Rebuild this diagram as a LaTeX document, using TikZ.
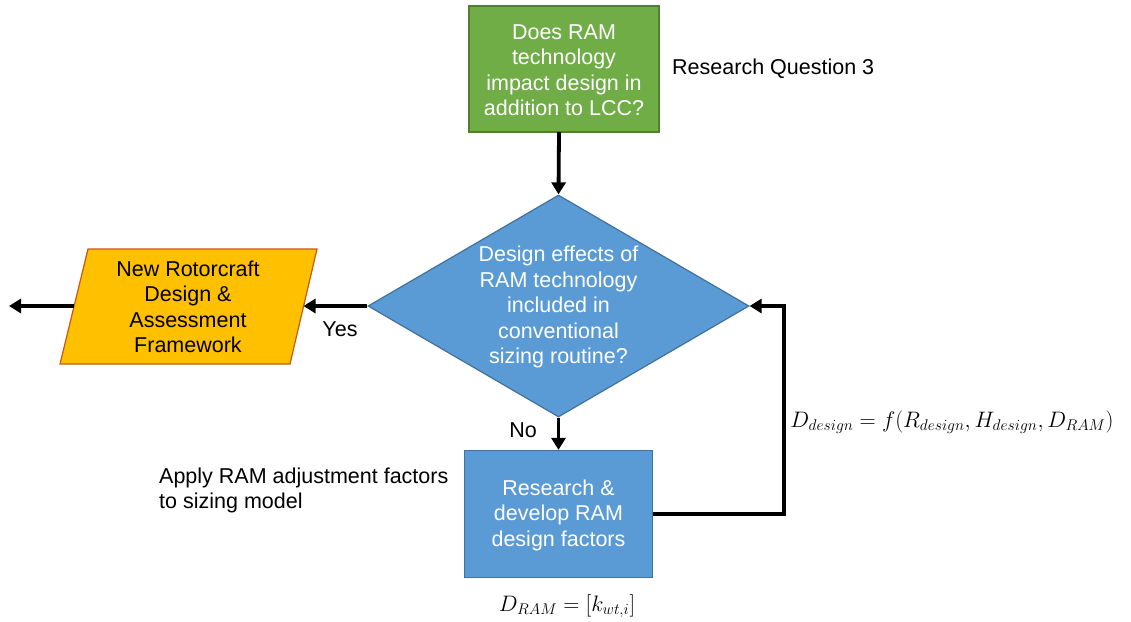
\documentclass[tikz,border=0pt]{standalone}
\usepackage{graphicx}
\usepackage{fontspec}
\setmainfont{Liberation Sans}
\usetikzlibrary{shapes.geometric,arrows.meta}
\definecolor{gfill}{HTML}{70AD47}
\definecolor{gdraw}{HTML}{507E32}
\definecolor{bfill}{HTML}{5B9BD5}
\definecolor{bdraw}{HTML}{41719C}
\definecolor{ofill}{HTML}{FFC000}
\definecolor{odraw}{HTML}{C55A11}
\tikzset{
  txt/.style={font=\fontsize{21.5pt}{25.5pt}\selectfont, align=center, inner sep=0pt},
  wtxt/.style={txt, text=white},
  mtxt/.style={font=\fontsize{20.74pt}{25pt}\selectfont, inner sep=0pt},
  flow/.style={line width=3.8pt, -{Triangle[length=12pt,width=14pt]}},
  gbox/.style={draw=gdraw, fill=gfill, line width=1.2pt, minimum width=190pt, minimum height=126pt, inner sep=0pt},
  bbox/.style={draw=bdraw, fill=bfill, line width=1.2pt, minimum width=188pt, minimum height=127pt, inner sep=0pt},
  dia/.style={diamond, draw=bdraw, fill=bfill, line width=1.2pt, minimum width=381pt, minimum height=222pt, inner sep=0pt},
}
\begin{document}
\begin{tikzpicture}[x=1pt,y=-1pt]
\useasboundingbox (0,0) rectangle (1131,621);
% green question box
\node[gbox] (q) at (564,69) {};
\node[wtxt] (qt) at (564,70) {Does RAM\\technology\\impact design in\\addition to LCC?};
\node[txt, anchor=west] (rq) at (672,69) {Research Question 3};
% diamond
\node[dia] (d) at (558.5,306) {};
\node[wtxt] (dt) at (558.5,307) {Design effects of\\RAM technology\\included in\\conventional\\sizing routine?};
% parallelogram
\coordinate (pBL) at (60,364);
\coordinate (pBR) at (290,364);
\coordinate (pTR) at (317,249);
\coordinate (pTL) at (88,249);
\draw[draw=odraw, fill=ofill, line width=1.2pt] (pBL) -- (pBR) -- (pTR) -- (pTL) -- cycle;
\coordinate (pR) at (303.5,306);
\coordinate (pL) at (74,306);
\coordinate (out) at (9,306);
\node[txt] (pt) at (188,307) {New Rotorcraft\\Design \&\\Assessment\\Framework};
% blue box
\node[bbox] (r) at (558.5,514) {};
\node[wtxt] (rt) at (558.5,515) {Research \&\\develop RAM\\design factors};
% labels
\node[txt] (yes) at (340,329) {Yes};
\node[txt] (no) at (523,430) {No};
\node[txt, align=left, anchor=west] (apply) at (159,490.5) {Apply RAM adjustment factors\\to sizing model};
\node[mtxt] (f1) at (952,422) {\scalebox{1.08}{$D_{design}=f\bigl(R_{design},H_{design},D_{RAM}\bigr)$}};
\node[mtxt] (f2) at (567,606) {\scalebox{1.08}{$D_{RAM}=\bigl[k_{wt,i}\bigr]$}};
% connectors
\coordinate (qb) at (559,132);
\draw[flow] (qb) -- (d.north);
\draw[flow] (d.south) -- (r.north);
\draw[flow] (d.west) -- (pR);
\draw[flow] (pL) -- (out);
\draw[flow] (r.east) -- (784,514) |- (d.east);
\end{tikzpicture}
\end{document}
